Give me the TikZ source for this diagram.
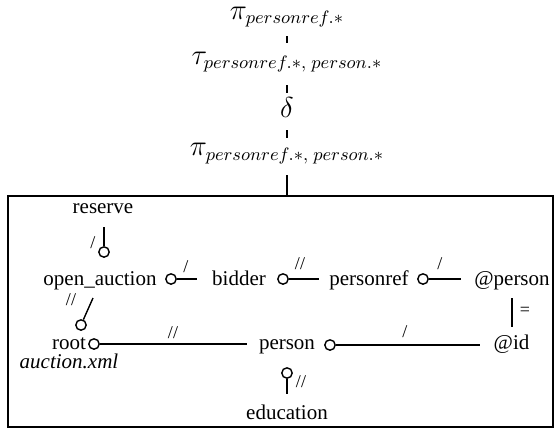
\documentclass[tikz,border=0pt]{standalone}
\usepackage{fontspec}
\setmainfont{Liberation Serif}
\tikzset{
  op/.style={inner sep=0pt, font=\fontsize{13.4}{16}\selectfont},
  elem/.style={anchor=base, inner sep=0pt, font=\fontsize{10.5}{12}\selectfont},
  knob/.style={circle, draw, fill=white, inner sep=0pt, minimum size=5.2pt},
  axis/.style={inner sep=0pt, font=\fontsize{9}{11}\selectfont},
}
\begin{document}
\begin{tikzpicture}[x=0.5pt, y=-0.5pt, line width=0.7pt]
  \useasboundingbox (0,0) rectangle (554,430);
  % plan on top of the pattern
  \node[op] (proj)  at (287,17)    {$\pi_{personref.*}$};
  \node[op] (sort)  at (287,62)    {$\tau_{personref.*,\; person.*}$};
  \node[op] (dedup) at (287,107)   {$\delta$};
  \node[op] (scan)  at (287,153.5) {$\pi_{personref.*,\; person.*}$};
  \draw[shorten <=9.5pt, shorten >=9.5pt] (proj.center) -- (sort.center);
  \draw[shorten <=11.5pt, shorten >=7pt] (sort.center) -- (dedup.center);
  \draw[shorten <=11.5pt, shorten >=7.75pt] (dedup.center) -- (scan.center);
  \node[draw, line width=0.9pt, minimum width=272.5pt, minimum height=115.5pt, inner sep=0pt] (tree) at (280.5,311.5) {};
  \draw[shorten <=10.75pt] (scan.center) -- (scan.center |- tree.north);
  % pattern tree
  \node[elem] (reserve)   at (103,213) {reserve};
  \node[elem] (auction)   at (100,285) {open\_auction};
  \node[elem] (bidder)    at (239,285) {bidder};
  \node[elem] (personref) at (369,285) {personref};
  \node[elem] (atperson)  at (512,285) {@person};
  \node[elem] (root)      at (69,349)  {root};
  \node[elem] (doc)       at (69,368)  {\itshape auction.xml};
  \node[elem] (person)    at (287,349) {person};
  \node[elem] (atid)      at (511.5,349) {@id};
  \node[elem] (education) at (287,419) {education};
  % parent side of each edge
  \node[knob] (kres)  at (104,252) {};
  \node[knob] (kroot) at (81,325)  {};
  \node[knob] (kbid)  at (171,279) {};
  \node[knob] (kpref) at (283,279) {};
  \node[knob] (katp)  at (423,279) {};
  \node[knob] (kper)  at (94,344)  {};
  \node[knob] (kid)   at (330,345) {};
  \node[knob] (kedu)  at (287,373) {};
  \coordinate (up) at (93,298);
  \draw[shorten >=6.5pt] (kres) -- (kres |- reserve.south);
  \draw (kroot) -- (up);
  \draw[shorten >=7pt] (kbid) -- (kbid -| bidder.west);
  \draw[shorten >=5pt] (kpref) -- (kpref -| personref.west);
  \draw[shorten >=6.5pt] (katp) -- (katp -| atperson.west);
  \draw[shorten >=5.5pt] (kper) -- (kper -| person.west);
  \draw[shorten >=6.5pt] (kid) -- (kid -| atid.west);
  \draw[shorten >=5pt] (kedu) -- (kedu |- education.north);
  \draw[shorten <=4pt, shorten >=3.5pt] (atperson.south) -- (atperson.south |- atid.north);
  % axis and join labels
  \node[axis] at (93,243)  {/};
  \node[axis] at (71,300)  {//};
  \node[axis] at (186,267) {/};
  \node[axis] at (300,264) {//};
  \node[axis] at (440,264) {/};
  \node[axis] at (173,333) {//};
  \node[axis] at (405,332) {/};
  \node[axis] at (301,382) {//};
  \node[axis] at (525,311) {=};
\end{tikzpicture}
\end{document}
